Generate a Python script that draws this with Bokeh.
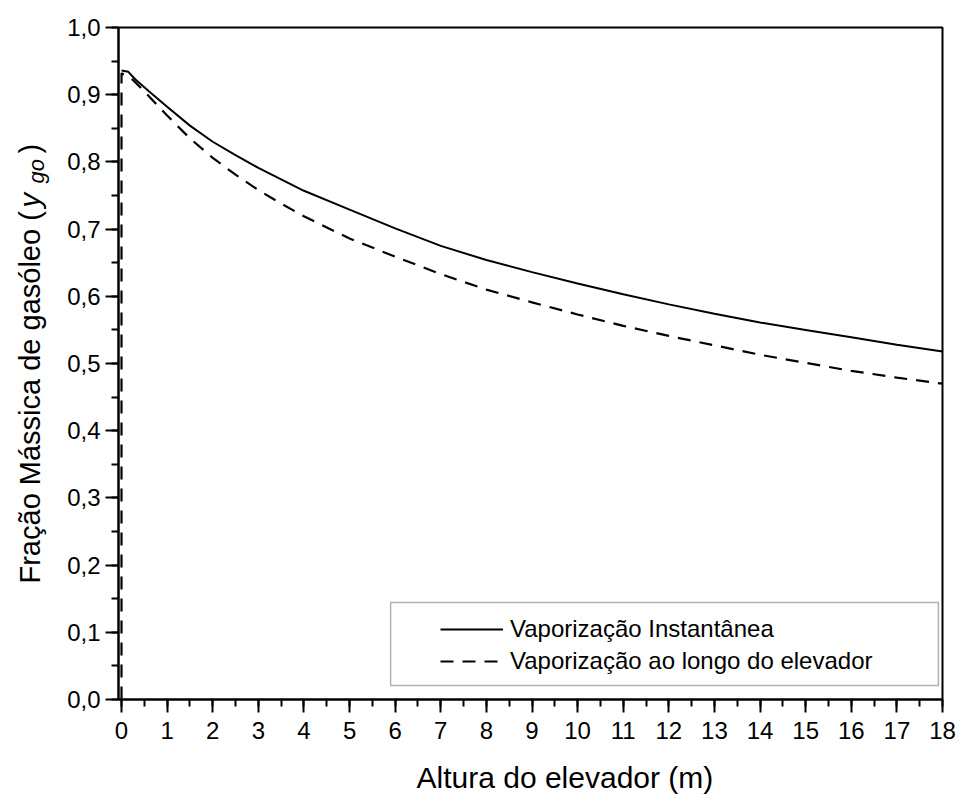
import math
from bokeh.plotting import figure
from bokeh.models import (Range1d, SingleIntervalTicker, CustomJSTickFormatter,
                          Legend, LegendItem, BoxAnnotation)
from bokeh.core.properties import value
from bokeh.embed import file_html
from bokeh.resources import INLINE

# ---- data ----
height_inst = [0, 0.15, 0.3, 0.6, 1.0, 1.5, 2, 2.5, 3, 4, 5, 6, 7, 8, 9, 10,
               11, 12, 13, 14, 15, 16, 17, 18]
frac_inst = [0.936, 0.934, 0.923, 0.905, 0.882, 0.854, 0.830, 0.810, 0.791,
             0.757, 0.729, 0.701, 0.675, 0.654, 0.636, 0.619, 0.603, 0.588,
             0.574, 0.561, 0.550, 0.539, 0.528, 0.518]

height_long = [0, 0, 0.25, 0.5, 1.0, 1.5, 2, 2.5, 3, 3.5, 4, 5, 6, 7, 8, 9,
               10, 11, 12, 13, 14, 15, 16, 17, 18]
frac_long = [0.0, 0.932, 0.922, 0.905, 0.869, 0.835, 0.806, 0.781, 0.758,
             0.738, 0.719, 0.686, 0.659, 0.633, 0.610, 0.591, 0.573, 0.556,
             0.541, 0.527, 0.513, 0.501, 0.489, 0.479, 0.470]

series_names = ["Vaporização Instantânea", "Vaporização ao longo do elevador"]
x_title = "Altura do elevador (m)"
y_title_parts = ["Fração Mássica de gasóleo (", "y", "go", ")"]

FONT = "Liberation Sans"
X0, X1 = -0.066, 18.0
Y0, Y1 = 0.0, 1.0

p = figure(width=958, height=795,
           x_range=Range1d(X0, X1), y_range=Range1d(Y0, Y1),
           output_backend="svg", toolbar_location=None,
           min_border_left=118, min_border_right=16,
           min_border_top=27, min_border_bottom=96)

p.grid.visible = False
p.background_fill_color = "white"
p.border_fill_color = "white"
p.outline_line_color = "black"
p.outline_line_width = 2

# axes
p.xaxis.ticker = SingleIntervalTicker(interval=1, num_minor_ticks=2)
p.yaxis.ticker = SingleIntervalTicker(interval=0.1, num_minor_ticks=2)
p.yaxis.formatter = CustomJSTickFormatter(code="return tick.toFixed(1).replace('.', ',');")
for ax in (p.xaxis[0], p.yaxis[0]):
    ax.axis_line_width = 2
    ax.axis_line_color = "black"
    ax.major_tick_line_width = 2
    ax.minor_tick_line_width = 2
    ax.major_tick_line_color = "black"
    ax.minor_tick_line_color = "black"
    ax.major_tick_in = 0
    ax.major_tick_out = 13
    ax.minor_tick_in = 0
    ax.minor_tick_out = 7
    ax.major_label_text_font = FONT
    ax.major_label_text_font_size = "24px"
    ax.major_label_text_color = "black"
p.xaxis.major_label_standoff = 9
p.yaxis.major_label_standoff = 5

# curves
r1 = p.line(height_inst, frac_inst, line_color="black", line_width=2)
r2 = p.line(height_long, frac_long, line_color="black", line_width=2.2,
            line_dash="13 9")

# legend box
box = BoxAnnotation(left=5.90, right=17.91, bottom=0.0208, top=0.1443,
                    fill_color="white", fill_alpha=1.0,
                    line_color="black", line_width=1.5)
p.add_layout(box)

legend = Legend(items=[LegendItem(label=series_names[0], renderers=[r1]),
                       LegendItem(label=series_names[1], renderers=[r2])],
                location=(312, 14), padding=10, margin=0, spacing=4,
                glyph_width=63, glyph_height=20, label_height=26,
                label_standoff=7, label_text_font=FONT,
                label_text_font_size="24px", label_text_color="black",
                background_fill_alpha=0, border_line_alpha=0)
p.add_layout(legend)


def title_text(txt, dx, dy, size, angle=0.0, style="normal"):
    # text anchored at the frame's lower-left corner, shifted in pixels
    p.text(x=[X0], y=[Y0], text=[txt], x_offset=dx, y_offset=dy,
           angle=angle, text_font=value(FONT), text_font_size=value(size),
           text_font_style=style, text_color="black",
           text_align="left", text_baseline="alphabetic", level="overlay")


# x axis title
title_text(x_title, 298, 78, "30px")

# y axis title with subscript
ang = math.pi / 2
title_text(y_title_parts[0], -89, -116, "29px", ang)
title_text(y_title_parts[1], -89, -492, "29px", ang, "italic")
title_text(y_title_parts[2], -82, -516, "22px", ang, "italic")
title_text(y_title_parts[3], -89, -546, "29px", ang)

open("out.html", "w").write(file_html(p, INLINE))
